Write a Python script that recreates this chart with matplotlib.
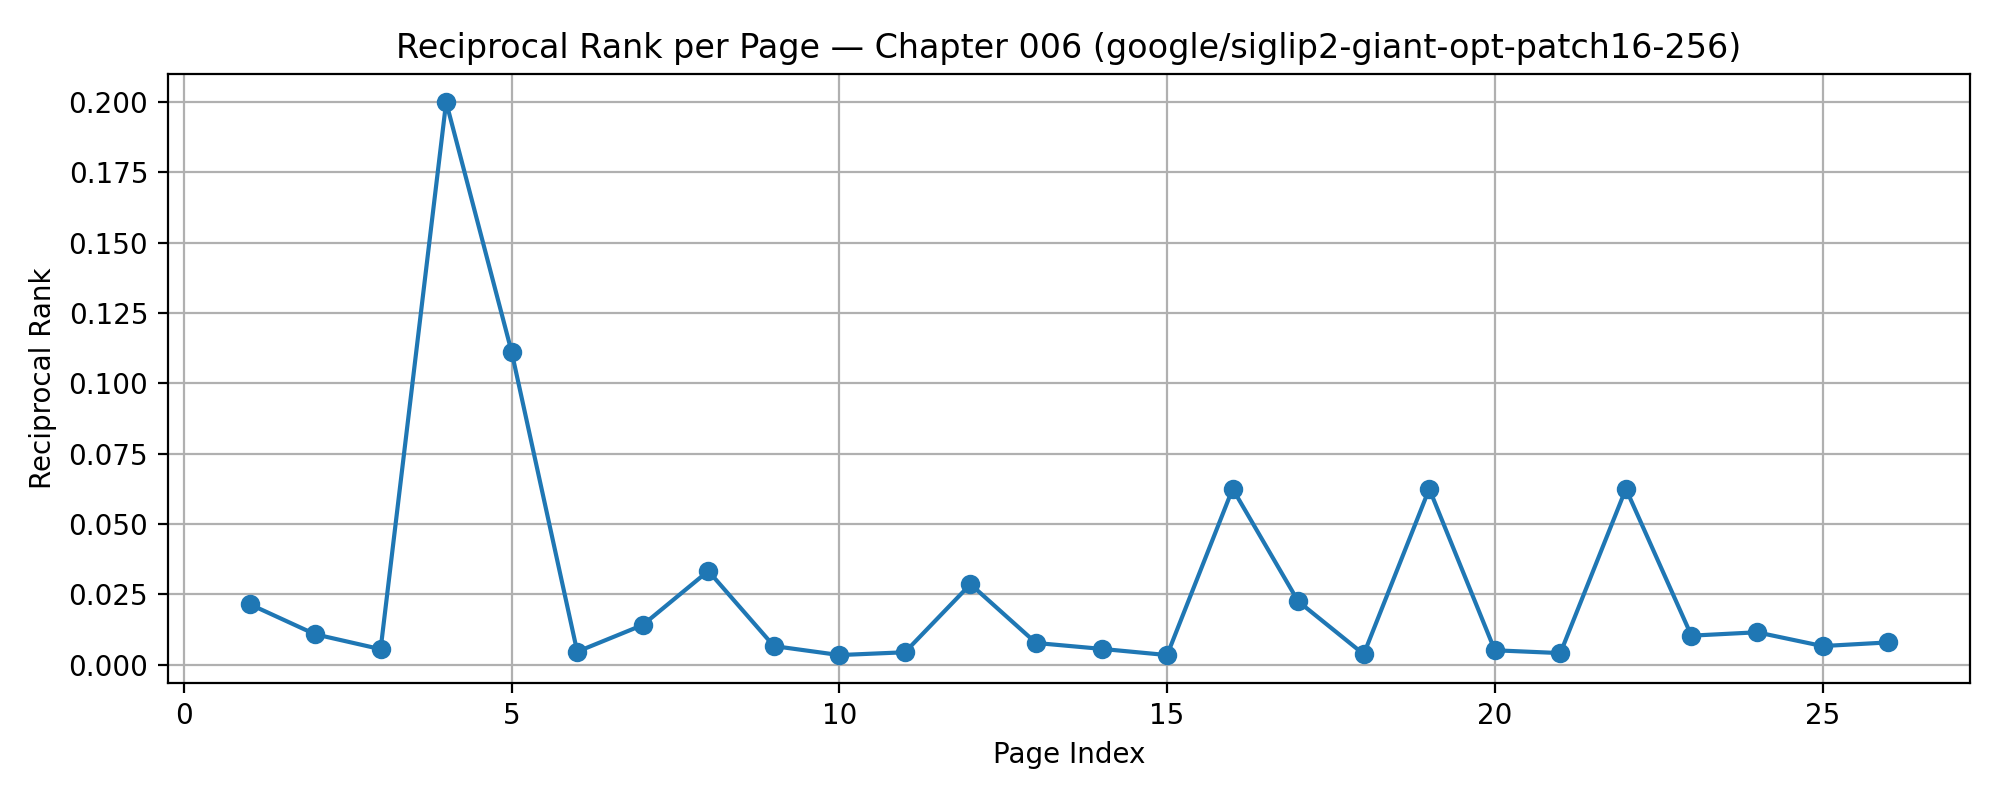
import matplotlib
matplotlib.use("Agg")
import matplotlib.pyplot as plt

pages = list(range(1, 27))
reciprocal_rank = [0.0215, 0.0108, 0.0055, 0.2000, 0.1111, 0.0046, 0.0141, 0.0333,
                   0.0066, 0.0034, 0.0044, 0.0286, 0.0077, 0.0056, 0.0034, 0.0625,
                   0.0225, 0.0037, 0.0625, 0.0051, 0.0041, 0.0625, 0.0103, 0.0115,
                   0.0066, 0.0079]

title = "Reciprocal Rank per Page — Chapter 006 (google/siglip2-giant-opt-patch16-256)"

fig, ax = plt.subplots(figsize=(10, 4), dpi=200)
ax.plot(pages, reciprocal_rank, marker="o")
ax.set_title(title)
ax.set_xlabel("Page Index")
ax.set_ylabel("Reciprocal Rank")
ax.grid(True)
fig.subplots_adjust(left=0.0838, right=0.985, bottom=0.1466, top=0.907)
fig.savefig("out.png", dpi=200)
